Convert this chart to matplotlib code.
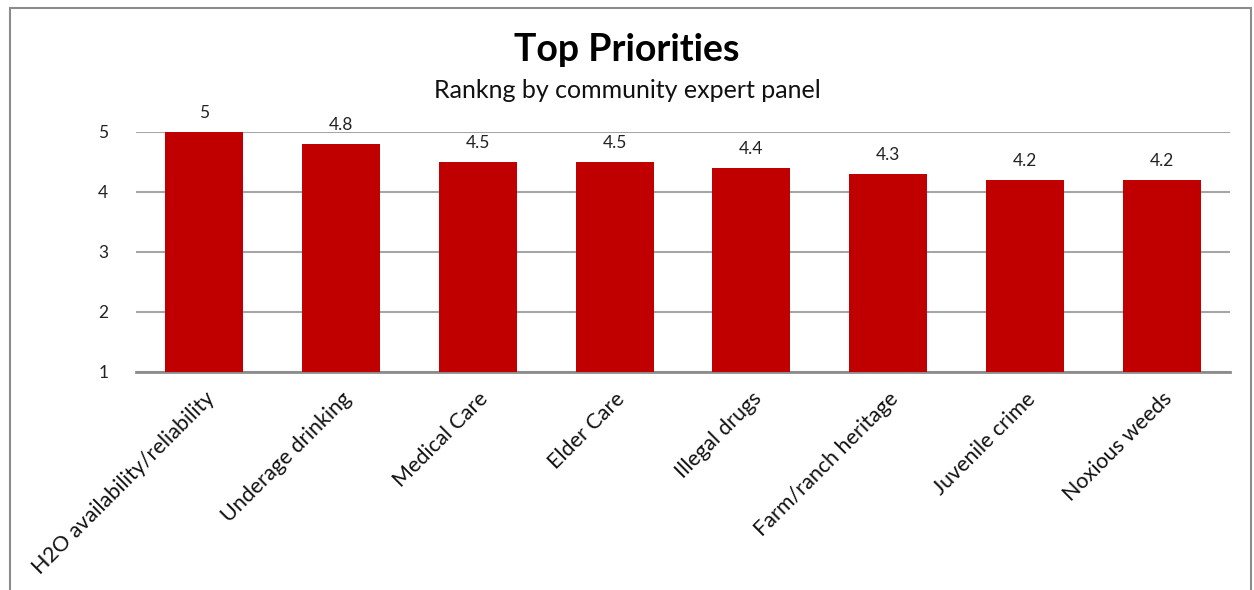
import matplotlib
matplotlib.use("Agg")
import matplotlib.pyplot as plt
from matplotlib.patches import Rectangle

categories = ["H2O availability/reliability", "Underage drinking", "Medical Care",
              "Elder Care", "Illegal drugs", "Farm/ranch heritage",
              "Juvenile crime", "Noxious weeds"]
values = [5, 4.8, 4.5, 4.5, 4.4, 4.3, 4.2, 4.2]
value_labels = ["5", "4.8", "4.5", "4.5", "4.4", "4.3", "4.2", "4.2"]
yticks = [1, 2, 3, 4, 5]

plt.rcParams['font.family'] = ['Lato', 'DejaVu Sans']

fig = plt.figure(figsize=(12.54, 5.90), dpi=100)
fig.patch.set_facecolor("white")

# outer chart border
fig.patches.append(Rectangle((10/1254, -0.05), (1251-10)/1254, 1.05 - 8/590,
                             transform=fig.transFigure, fill=False,
                             edgecolor="#8c8c8c", linewidth=1.5))

ax = fig.add_axes([136/1254, 1-372/590, (1230-136)/1254, (372-132)/590])
x = list(range(len(categories)))
ax.bar(x, [v - 1 for v in values], bottom=1, width=0.57, color="#C00000", zorder=3)
ax.set_xlim(-0.5, len(categories) - 0.5)
ax.set_ylim(1, 5)
ax.set_yticks(yticks)
ax.set_yticklabels([str(t) for t in yticks], fontsize=12.5, color="#222222")
ax.yaxis.grid(True, color="#a6a6a6", linewidth=1.5, zorder=0)
ax.set_axisbelow(True)
for s in ["top", "right", "left"]:
    ax.spines[s].set_visible(False)
ax.spines["bottom"].set_color("#8c8c8c")
ax.spines["bottom"].set_linewidth(2)
ax.tick_params(axis="y", length=0, pad=20)
ax.tick_params(axis="x", length=0, pad=12)
ax.set_xticks(x)
ax.set_xticklabels(categories, rotation=45, ha="right", va="top",
                   rotation_mode="anchor", fontsize=15.5, color="#111111")

for xi, v, t in zip(x, values, value_labels):
    ax.annotate(t, (xi, v), xytext=(0, 8), textcoords="offset points",
                ha="center", va="bottom", fontsize=12.5, color="#222222")

fig.text(0.5, 1-50/590, "Top Priorities", ha="center", va="center",
         fontsize=27, fontweight="bold", color="black")
fig.text(0.5, 1-90/590, "Rankng by community expert panel", ha="center", va="center",
         fontsize=18, color="#111111")

fig.savefig("out.png", dpi=100)
